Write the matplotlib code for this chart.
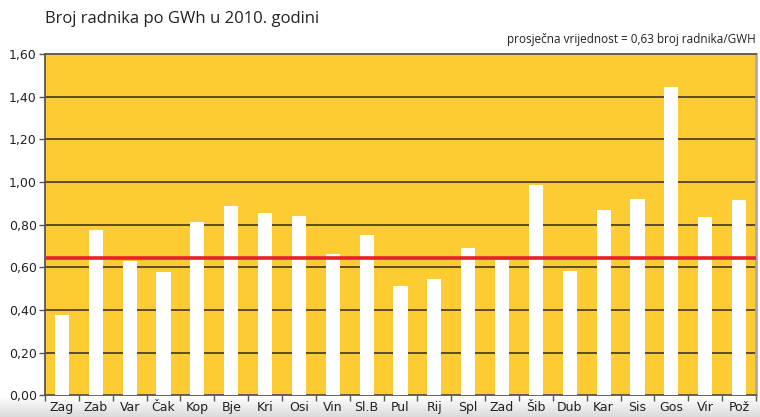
import matplotlib.pyplot as plt
import numpy as np

### DATA
gradovi = ["Zag", "Zab", "Var", "Čak", "Kop", "Bje", "Kri", "Osi", "Vin", "Sl.B", "Pul",
           "Rij", "Spl", "Zad", "Šib", "Dub", "Kar", "Sis", "Gos", "Vir", "Pož"]
radnika_po_gwh = [0.377, 0.776, 0.631, 0.579, 0.813, 0.888, 0.856, 0.842, 0.663, 0.752, 0.513,
                  0.546, 0.691, 0.635, 0.987, 0.584, 0.870, 0.921, 1.446, 0.836, 0.916]
prosjek = 0.643
y_ticks = [0.0, 0.2, 0.4, 0.6, 0.8, 1.0, 1.2, 1.4, 1.6]

naslov = "Broj radnika po GWh u 2010. godini"
podnaslov = "prosječna vrijednost = 0,63 broj radnika/GWH"

### FIGURE
fig = plt.figure(figsize=(7.6, 4.17), dpi=100)
fig.patch.set_facecolor("white")

# light grey fade behind the x labels
bg = fig.add_axes([0, 0, 1, 0.05])
shade = np.linspace(0.86, 1.0, 40).reshape(-1, 1)
bg.imshow(np.dstack([shade, shade, shade]), aspect="auto", extent=[0, 1, 0, 1], origin="lower")
bg.axis("off")

ax = fig.add_axes([0.0592, 0.0516, 0.9355, 0.8189])
ax.set_facecolor("#fdcc33")

x = np.arange(len(gradovi))
ax.bar(x, radnika_po_gwh, width=0.42, color="white", zorder=3)
ax.axhline(prosjek, color="#e8202a", lw=2.6, zorder=4)

for t in y_ticks[1:-1]:
    ax.axhline(t, color="#5e4c22", lw=1.4, zorder=2)

ax.set_xlim(-0.5, len(gradovi) - 0.5)
ax.set_ylim(0, 1.6)
ax.set_yticks(y_ticks)
ax.set_yticklabels([f"{t:.2f}".replace(".", ",") for t in y_ticks],
                   fontsize=9, family=["Liberation Sans Narrow", "DejaVu Sans"])
ax.set_xticks(x)
ax.set_xticklabels(gradovi, fontsize=9, family=["Liberation Sans Narrow", "DejaVu Sans"])
ax.set_xticks(np.arange(-0.5, len(gradovi), 1), minor=True)
ax.tick_params(axis="x", which="major", length=0, pad=4, colors="#222222")
ax.tick_params(axis="x", which="minor", length=4, width=1, color="#555555")
ax.tick_params(axis="y", length=4, width=1, color="#555555", colors="#222222", pad=2)

for side in ["left", "top", "bottom"]:
    ax.spines[side].set_color("#555555")
    ax.spines[side].set_linewidth(1.3)
ax.spines["right"].set_color("#aaaaaa")
ax.spines["right"].set_linewidth(2)

fig.text(0.059, 0.955, naslov, fontsize=12, family="Open Sans", color="#222222",
         ha="left", va="center")
fig.text(0.994, 0.905, podnaslov, fontsize=8.5, family="Open Sans", color="#222222",
         ha="right", va="center")

fig.savefig("out.png", dpi=100)
